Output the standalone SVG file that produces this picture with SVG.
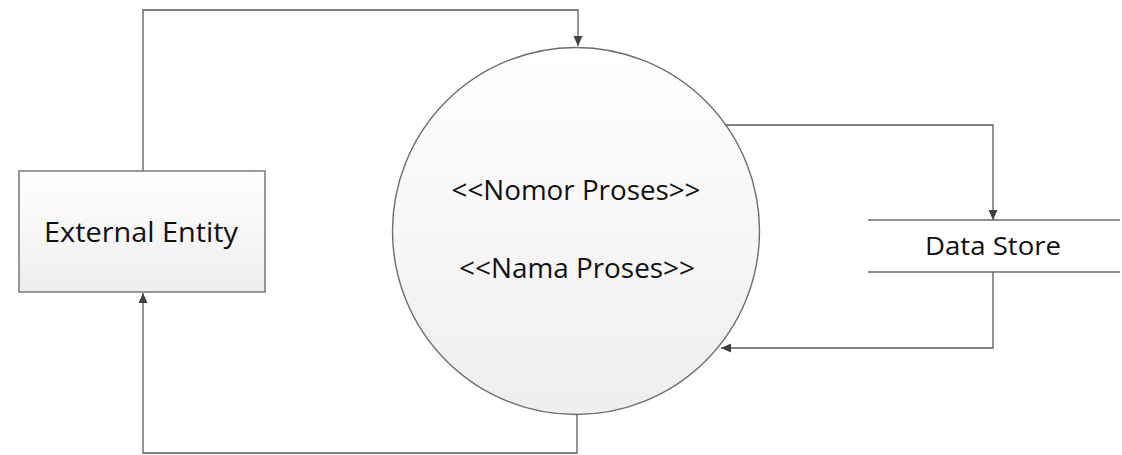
<svg xmlns="http://www.w3.org/2000/svg" width="1122" height="455" viewBox="0 0 1122 455">
<style>
.lbl{font-family:"Open Sans","Liberation Sans",sans-serif;font-size:27px;fill:#111;text-anchor:middle}
.conn{fill:none;stroke:#595959;stroke-width:1.3}
.shape{stroke:#6e6e6e;stroke-width:1.4}
</style>
<defs>
<linearGradient id="g" x1="0" y1="0" x2="0" y2="1">
<stop offset="0" stop-color="#ffffff"/>
<stop offset="1" stop-color="#eeeeee"/>
</linearGradient>
<marker id="arr" viewBox="0 0 10 10" refX="10" refY="5" markerWidth="10" markerHeight="10" markerUnits="userSpaceOnUse" orient="auto">
<path d="M0,0.5 L10,5 L0,9.5 Z" fill="#404040"/>
</marker>
</defs>
<rect width="1122" height="455" fill="#ffffff"/>
<g id="connectors">
<path class="conn" d="M143,171 V10 H578 V46" marker-end="url(#arr)"/>
<path class="conn" d="M726,125 H993 V220" marker-end="url(#arr)"/>
<path class="conn" d="M993,272 V348 H721" marker-end="url(#arr)"/>
<path class="conn" d="M577,415 V453 H143 V293" marker-end="url(#arr)"/>
</g>
<g id="external-entity">
<rect class="shape" x="19" y="171" width="246" height="121" fill="url(#g)"/>
<text class="lbl" x="141" y="242" textLength="194" lengthAdjust="spacingAndGlyphs">External Entity</text>
</g>
<g id="process">
<circle class="shape" cx="576" cy="231" r="183.5" fill="url(#g)"/>
<text class="lbl" x="576" y="200" textLength="249" lengthAdjust="spacingAndGlyphs">&lt;&lt;Nomor Proses&gt;&gt;</text>
<text class="lbl" x="577" y="278" textLength="236" lengthAdjust="spacingAndGlyphs">&lt;&lt;Nama Proses&gt;&gt;</text>
</g>
<g id="data-store">
<line class="shape" x1="868" y1="220" x2="1120" y2="220"/>
<line class="shape" x1="868" y1="272" x2="1120" y2="272"/>
<text class="lbl" x="993" y="255" style="font-size:25px" textLength="136" lengthAdjust="spacingAndGlyphs">Data Store</text>
</g>
</svg>
